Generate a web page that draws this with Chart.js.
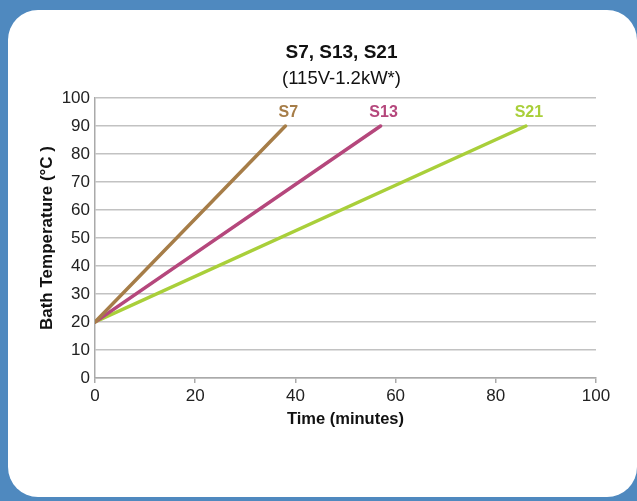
<!DOCTYPE html>
<html lang="en">
  <head>
    <meta charset="UTF-8" />
    <title>S7, S13, S21 heat-up</title>
    <script src="https://cdn.jsdelivr.net/npm/chart.js"></script>
    <style>
      body { margin: 0; background: #4f89bf; }
      #wrap { position: relative; width: 637px; height: 501px; overflow: hidden; }
      #panel {
        position: absolute; left: 8px; top: 10px; width: 629px; height: 487px;
        background: #fff; border-radius: 30px;
      }
      #chart { position: absolute; left: 0; top: 0; }
    </style>
  </head>
  <body>
    <div id="wrap">
      <div id="panel"></div>
      <canvas id="chart" width="637" height="501"></canvas>
    </div>

    <script>
      // values
      const seriesNames = ['S7', 'S13', 'S21'];
      const timeS7 = [0, 38];
      const tempS7 = [20, 90];
      const timeS13 = [0, 57];
      const tempS13 = [20, 90];
      const timeS21 = [0, 86];
      const tempS21 = [20, 90];
      const seriesColors = ['#a67d48', '#b5477c', '#a9cf3a'];

      const chartTitle = 'S7, S13, S21';
      const chartSubtitle = '(115V-1.2kW*)';

      const FONT = "'Liberation Sans', Arial, Helvetica, sans-serif";

      function toPoints(xs, ys) {
        return xs.map((x, i) => ({ x: x, y: ys[i] }));
      }

      const times = [timeS7, timeS13, timeS21];
      const temps = [tempS7, tempS13, tempS21];

      // draws the title block and the series name at the end of each line
      const annotate = {
        id: 'annotate',
        afterDatasetsDraw(chart) {
          const ctx = chart.ctx;
          const area = chart.chartArea;
          const cx = (area.left + area.right) / 2 - 4;
          ctx.save();
          ctx.textAlign = 'center';
          ctx.textBaseline = 'alphabetic';
          ctx.fillStyle = '#111';
          ctx.font = 'bold 19px ' + FONT;
          ctx.fillText(chartTitle, cx, 58);
          ctx.font = '18.5px ' + FONT;
          ctx.fillText(chartSubtitle, cx, 84);

          ctx.font = 'bold 16px ' + FONT;
          chart.data.datasets.forEach((ds, i) => {
            const meta = chart.getDatasetMeta(i);
            const last = meta.data[meta.data.length - 1];
            ctx.fillStyle = ds.borderColor;
            ctx.fillText(seriesNames[i], last.x + 3, last.y - 9);
          });
          ctx.restore();
        }
      };

      new Chart(document.getElementById('chart'), {
        type: 'line',
        data: {
          datasets: seriesNames.map((name, i) => ({
            label: name,
            data: toPoints(times[i], temps[i]),
            borderColor: seriesColors[i],
            backgroundColor: seriesColors[i],
            borderWidth: 3.5,
            borderCapStyle: 'round',
            pointRadius: 0,
            tension: 0
          }))
        },
        options: {
          responsive: false,
          animation: false,
          layout: { padding: { left: 30, right: 41, top: 98, bottom: 68 } },
          plugins: {
            legend: { display: false },
            title: { display: false },
            tooltip: { enabled: false }
          },
          scales: {
            x: {
              type: 'linear',
              min: 0,
              max: 100,
              afterFit: (scale) => { scale.height = 55; },
              ticks: { stepSize: 20, color: '#222', padding: 3, font: { family: FONT, size: 17 } },
              grid: { drawOnChartArea: false, drawTicks: true, tickLength: 5, color: '#aaa', lineWidth: 1.5 },
              border: { color: '#aaa', width: 1.5 },
              title: {
                display: true,
                text: 'Time (minutes)',
                color: '#111',
                padding: { top: 0, bottom: 4 },
                font: { family: FONT, size: 16.5, weight: 'bold' }
              }
            },
            y: {
              min: 0,
              max: 100,
              afterFit: (scale) => { scale.width = 65; },
              ticks: { stepSize: 10, color: '#222', padding: 5, font: { family: FONT, size: 17 } },
              grid: { color: '#c2c2c2', lineWidth: 1.5, drawTicks: false },
              border: { color: '#aaa', width: 1.5 },
              title: {
                display: true,
                text: 'Bath Temperature (°C )',
                color: '#111',
                padding: { top: 7, bottom: 0 },
                font: { family: FONT, size: 17, weight: 'bold' }
              }
            }
          }
        },
        plugins: [annotate]
      });
    </script>
  </body>
</html>
